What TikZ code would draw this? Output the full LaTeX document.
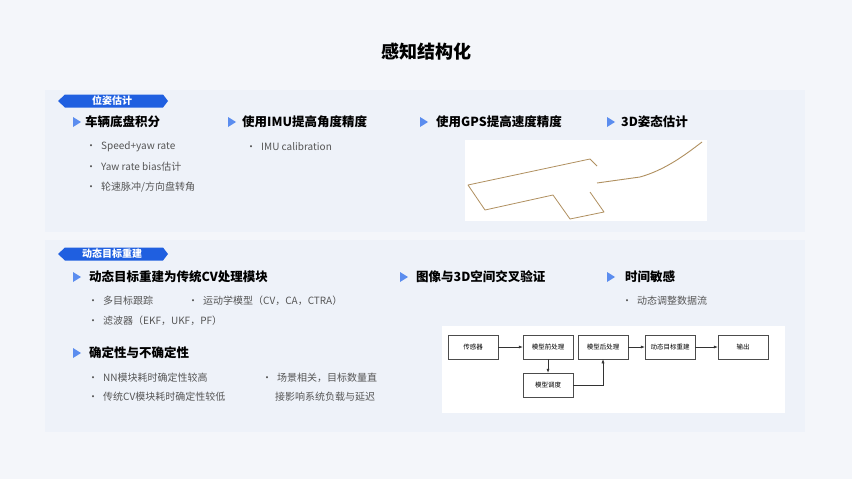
\documentclass[tikz,border=0pt]{standalone}
\usepackage{fontspec}
\setmainfont{Noto Sans CJK SC}
\usetikzlibrary{arrows.meta}
\definecolor{bg}{HTML}{F4F6FA}
\definecolor{panel}{HTML}{EEF2F9}
\definecolor{tagblue}{HTML}{1F5FE0}
\definecolor{tri}{HTML}{5B8DEF}
\definecolor{txt}{HTML}{555555}
\definecolor{gold}{HTML}{B09060}
\tikzset{
  hdr/.style={anchor=west,font=\bfseries\fontsize{12.5}{14}\selectfont,text=black,inner sep=0pt},
  itm/.style={anchor=west,font=\fontsize{10}{12}\selectfont,text=txt,inner sep=0pt},
  fbox/.style={draw=black!70,line width=0.5pt,fill=white,minimum width=50pt,minimum height=24pt,font=\fontsize{6.5}{7}\selectfont,inner sep=0pt},
  farr/.style={-{Latex[length=4pt,width=3pt]},line width=0.5pt,black!80},
  tagtxt/.style={text=white,font=\bfseries\fontsize{10}{11}\selectfont}
}
\newcommand{\tri}[1]{\fill[tri] (#1)++(0,-5) -- ++(8,5) -- ++(-8,5) -- cycle;}
\newcommand{\tagshape}[1]{\fill[tagblue] (58,#1) -- (65,#1-6.5) -- (163,#1-6.5) -- (168,#1) -- (163,#1+6.5) -- (65,#1+6.5) -- cycle;}
\newcommand{\bul}{\textbullet\enspace}
\begin{document}
\begin{tikzpicture}[x=1pt,y=-1pt]
\fill[bg] (0,0) rectangle (852,479);
\useasboundingbox (0,0) rectangle (852,479);
\node (title) at (426,52) {\bfseries\fontsize{18}{20}\selectfont 感知结构化};
\fill[panel] (45,90) rectangle (805,232);
\fill[panel] (45,240) rectangle (805,432);
\tagshape{101}
\node[tagtxt] (t1) at (112,101) {位姿估计};
\tagshape{254}
\node[tagtxt] (t2) at (112,254) {动态目标重建};
\tri{73,122} \node[hdr] (h1) at (85,122) {车辆底盘积分};
\tri{228,122} \node[hdr] (h2) at (242,122) {使用IMU提高角度精度};
\tri{420,122} \node[hdr] (h3) at (436,122) {使用GPS提高速度精度};
\tri{607,122} \node[hdr] (h4) at (621,122) {3D姿态估计};
\node[itm] (a1) at (86,147) {\bul Speed+yaw rate};
\node[itm] (a2) at (86,167) {\bul Yaw rate bias估计};
\node[itm] (a3) at (86,187) {\bul 轮速脉冲/方向盘转角};
\node[itm] (b1) at (246,147) {\bul IMU calibration};
\fill[white] (465,140) rectangle (707,221);
\draw[gold,line width=0.8pt,line join=round] (597,166) -- (590,159) -- (468,185) -- (485,210) -- (553,195) -- (570,219) -- (604,212) -- (590,192);
\draw[gold,line width=0.9pt] (597,183) -- (640,177) .. controls (665,170) and (685,155) .. (702,142);
\tri{73,277} \node[hdr] (h5) at (89,277) {动态目标重建为传统CV处理模块};
\tri{400,277} \node[hdr] (h6) at (416,277) {图像与3D空间交叉验证};
\tri{607,277} \node[hdr] (h7) at (625,277) {时间敏感};
\node[itm] (c1) at (88,301) {\bul 多目标跟踪};
\node[itm] (c2) at (188,301) {\bul 运动学模型（CV，CA，CTRA）};
\node[itm] (c3) at (88,321) {\bul 滤波器（EKF，UKF，PF）};
\node[itm] (d1) at (622,301) {\bul 动态调整数据流};
\tri{73,353} \node[hdr] (h8) at (89,353) {确定性与不确定性};
\node[itm] (e1) at (88,378) {\bul NN模块耗时确定性较高};
\node[itm] (e2) at (88,397) {\bul 传统CV模块耗时确定性较低};
\node[itm] (e3) at (262,378) {\bul 场景相关，目标数量直};
\node[itm] (e4) at (275,397) {接影响系统负载与延迟};
\fill[white] (442,326) rectangle (785,413);
\node[fbox] (s) at (473,347) {传感器};
\node[fbox] (pre) at (548,347) {模型前处理};
\node[fbox] (post) at (603,347) {模型后处理};
\node[fbox] (dyn) at (670,347) {动态目标重建};
\node[fbox] (out) at (743,347) {输出};
\node[fbox] (sch) at (548,385) {模型调度};
\draw[farr] (s) -- (pre);
\draw[farr] (pre) -- (sch);
\draw[farr] (sch.east) -| (post.south);
\draw[farr] (post) -- (dyn);
\draw[farr] (dyn) -- (out);
\end{tikzpicture}
\end{document}
